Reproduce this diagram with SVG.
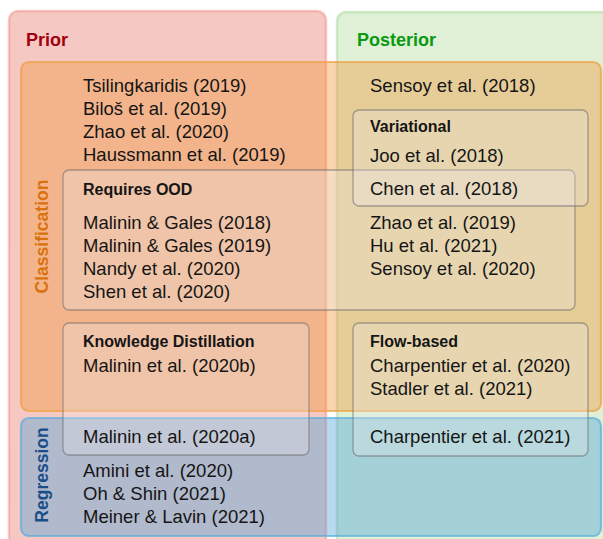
<svg xmlns="http://www.w3.org/2000/svg" width="603" height="539" viewBox="0 0 603 539">
<style>
text{font-family:"Liberation Sans",Arial,sans-serif;fill:#151515}
.t{font-size:18.5px}
.h{font-size:16px;font-weight:bold}
.big{font-size:18px;font-weight:bold}
.side{font-size:17.5px;font-weight:bold}
.inner{fill:#ececec;fill-opacity:0.3;stroke:#6f6f6f;stroke-opacity:0.6;stroke-width:1.3}
</style>
<rect width="603" height="539" fill="#ffffff"/>
<g id="prior">
<rect x="9" y="11" width="317" height="545" rx="9" fill="#f6c8c4" stroke="#f08a80" stroke-opacity="0.45" stroke-width="2.5"/>
<text class="big" x="26" y="46" style="fill:#a00010">Prior</text>
</g>
<g id="posterior">
<rect x="337" y="12" width="290" height="545" rx="9" fill="#dff0d7" stroke="#a8d898" stroke-opacity="0.5" stroke-width="2.5"/>
<text class="big" x="357" y="46" style="fill:#0a9a10">Posterior</text>
</g>
<g id="classification">
<rect x="21" y="62" width="580" height="349" rx="8" fill="#f19638" fill-opacity="0.4" stroke="#f0a040" stroke-opacity="0.7" stroke-width="2.2"/>
<text class="side" transform="translate(48,236.5) rotate(-90)" text-anchor="middle" style="fill:#d9720c">Classification</text>
<text class="t" x="83" y="92">Tsilingkaridis (2019)</text>
<text class="t" x="83" y="115">Biloš et al. (2019)</text>
<text class="t" x="83" y="138">Zhao et al. (2020)</text>
<text class="t" x="83" y="161">Haussmann et al. (2019)</text>
<text class="t" x="370" y="92">Sensoy et al. (2018)</text>
</g>
<g id="regression">
<rect x="21" y="418" width="580" height="118" rx="8" fill="#4ca2da" fill-opacity="0.4" stroke="#5aaede" stroke-opacity="0.7" stroke-width="2.2"/>
<text class="side" transform="translate(48,475) rotate(-90)" text-anchor="middle" style="fill:#194f88">Regression</text>
<text class="t" x="83" y="477">Amini et al. (2020)</text>
<text class="t" x="83" y="500">Oh &amp; Shin (2021)</text>
<text class="t" x="83" y="523">Meiner &amp; Lavin (2021)</text>
</g>
<g id="requires-ood">
<rect class="inner" x="63" y="170" width="512" height="140" rx="6"/>
<text class="h" x="83" y="195">Requires OOD</text>
<text class="t" x="83" y="229">Malinin &amp; Gales (2018)</text>
<text class="t" x="83" y="252">Malinin &amp; Gales (2019)</text>
<text class="t" x="83" y="275">Nandy et al. (2020)</text>
<text class="t" x="83" y="298">Shen et al. (2020)</text>
<text class="t" x="370" y="229">Zhao et al. (2019)</text>
<text class="t" x="370" y="252">Hu et al. (2021)</text>
<text class="t" x="370" y="275">Sensoy et al. (2020)</text>
</g>
<g id="variational">
<rect class="inner" x="353" y="110" width="235" height="96" rx="6"/>
<text class="h" x="370" y="132">Variational</text>
<text class="t" x="370" y="162">Joo et al. (2018)</text>
<text class="t" x="370" y="195">Chen et al. (2018)</text>
</g>
<g id="knowledge-distillation">
<rect class="inner" x="63" y="323" width="246" height="132" rx="6"/>
<text class="h" x="83" y="347">Knowledge Distillation</text>
<text class="t" x="83" y="372">Malinin et al. (2020b)</text>
<text class="t" x="83" y="443">Malinin et al. (2020a)</text>
</g>
<g id="flow-based">
<rect class="inner" x="353" y="323" width="235" height="133" rx="6"/>
<text class="h" x="370" y="347">Flow-based</text>
<text class="t" x="370" y="372">Charpentier et al. (2020)</text>
<text class="t" x="370" y="395">Stadler et al. (2021)</text>
<text class="t" x="370" y="443">Charpentier et al. (2021)</text>
</g>
</svg>
